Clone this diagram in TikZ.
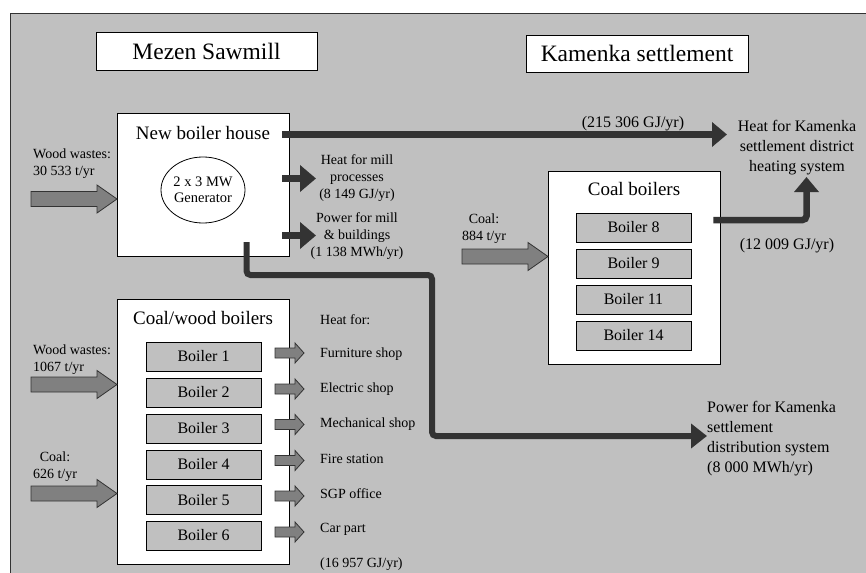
\documentclass[tikz,border=0pt]{standalone}
\usepackage{fontspec}
\setmainfont{Liberation Serif}
\usetikzlibrary{arrows.meta,shapes.geometric}

\definecolor{panel}{HTML}{C0C0C0}
\definecolor{ink}{HTML}{333333}
\definecolor{feed}{HTML}{808080}

% wide grey input arrow: start x, tip x, centre y
\newcommand\FeedArrow[3]{%
  \draw[feedarrow] (#1,#3-7.5) -- (#2-20,#3-7.5) -- (#2-20,#3-14) -- (#2,#3)
    -- (#2-20,#3+14) -- (#2-20,#3+7.5) -- (#1,#3+7.5) -- cycle;}
% small grey output arrow: start x, tip x, centre y
\newcommand\ServeArrow[3]{%
  \draw[feedarrow] (#1,#3-5) -- (#2-9,#3-5) -- (#2-9,#3-10) -- (#2,#3)
    -- (#2-9,#3+10) -- (#2-9,#3+5) -- (#1,#3+5) -- cycle;}

\tikzset{
  x=1pt, y=-1pt,
  titlebox/.style={draw=black, line width=0.8pt, fill=white, inner sep=0pt,
    font=\fontsize{23.5}{28}\selectfont},
  plant/.style={draw=black, line width=0.8pt, fill=white, inner sep=0pt},
  planttitle/.style={font=\fontsize{19}{22}\selectfont, inner sep=0pt},
  boiler/.style={draw=black, line width=0.8pt, fill=panel, minimum width=115,
    minimum height=29, inner sep=0pt, font=\fontsize{16}{19}\selectfont},
  lbl/.style={inner sep=0pt, font=\fontsize{14}{17}\selectfont},
  biglbl/.style={inner sep=0pt, font=\fontsize{16}{20}\selectfont},
  feedarrow/.style={draw=ink, line width=0.8pt, fill=feed},
  heatflow/.style={draw=ink, line width=6.5pt,
    -{Triangle[length=15pt,width=24pt]}},
  powerflow/.style={draw=ink, line width=6pt, rounded corners=4pt,
    -{Triangle[length=16pt,width=24pt]}},
  millflow/.style={draw=ink, line width=7pt,
    -{Triangle[length=16pt,width=26pt]}},
}

\begin{document}
\begin{tikzpicture}
\useasboundingbox (0,0) rectangle (866,572);
\begin{scope}
  \clip (0,0) rectangle (866,572);
  \draw[fill=panel, draw=ink, line width=0.9pt] (10,13) rectangle (880,590);
\end{scope}

% site titles
\node[titlebox, minimum width=221, minimum height=38] (mezen) at (206.5,51) {Mezen Sawmill};
\node[titlebox, minimum width=222, minimum height=37] (kamenka) at (637,53.5) {Kamenka settlement};

% new boiler house with generator
\node[plant, minimum width=172, minimum height=143] (nbh) at (203,184.5) {};
\node[planttitle] (nbhtitle) at (203,133) {New boiler house};
\node[draw=black, line width=0.8pt, fill=white, ellipse, minimum width=84,
  minimum height=66, inner sep=0pt, align=center,
  font=\fontsize{14.5}{16}\selectfont] (gen) at (203,190) {2 x 3 MW\\Generator};

% coal/wood boilers
\node[plant, minimum width=172, minimum height=265] (cwb) at (203,431.5) {};
\node[planttitle] (cwbtitle) at (203,318) {Coal/wood boilers};
\node[boiler] (b1) at (203.5,356.5) {Boiler 1};
\node[boiler] (b2) at (203.5,392.5) {Boiler 2};
\node[boiler] (b3) at (203.5,428.5) {Boiler 3};
\node[boiler] (b4) at (203.5,464.5) {Boiler 4};
\node[boiler] (b5) at (203.5,500) {Boiler 5};
\node[boiler] (b6) at (203.5,535.5) {Boiler 6};

% coal boilers of the settlement
\node[plant, minimum width=172, minimum height=193] (cb) at (634,268) {};
\node[planttitle] (cbtitle) at (634,189) {Coal boilers};
\node[boiler] (b8) at (633.5,227.5) {Boiler 8};
\node[boiler] (b9) at (633.5,263.5) {Boiler 9};
\node[boiler] (b11) at (633.5,299.5) {Boiler 11};
\node[boiler] (b14) at (633.5,335.5) {Boiler 14};

% fuel inputs
\node[lbl, anchor=west, align=left] (ww1) at (33,163.5) {Wood wastes:\\30 533 t/yr};
\FeedArrow{31}{117}{199}
\node[lbl, anchor=west, align=left] (ww2) at (33,359.5) {Wood wastes:\\1067 t/yr};
\FeedArrow{31}{117}{384.5}
\node[lbl, align=center] (coal1) at (55,466.5) {Coal:\\626 t/yr};
\FeedArrow{31}{117}{493.5}
\node[lbl, align=center] (coal2) at (484,229) {Coal:\\884 t/yr};
\FeedArrow{462}{548}{256.5}

% heat and power from the new boiler house
\coordinate (millheat) at (316,178.5);
\coordinate (millpower) at (316,235.5);
\draw[millflow] (282,178.5) -- (millheat);
\draw[millflow] (282,235.5) -- (millpower);
\node[lbl, align=center] (millheatlbl) at (357,178.5) {Heat for mill\\processes\\(8 149 GJ/yr)};
\node[lbl, align=center] (millpowerlbl) at (357,236.5) {Power for mill\\\& buildings\\(1 138 MWh/yr)};

\node[biglbl, align=center] (kheat) at (797,148) {Heat for Kamenka\\settlement district\\heating system};
\coordinate (kheattip) at (727,134.5);
\draw[heatflow] ([xshift=-7pt]nbh.east |- kheattip) -- (kheattip);
\node[biglbl] (flow1) at (633,124) {(215 306 GJ/yr)};

\coordinate (districttip) at (806.5,177);
\draw[heatflow, rounded corners=4pt] ([xshift=-7pt]cb.east |- 0,220) -| (districttip);
\node[biglbl] (flow2) at (787,245.5) {(12 009 GJ/yr)};

\node[biglbl, anchor=west, align=left] (kpower) at (707,439) {Power for Kamenka\\settlement\\distribution system\\(8 000 MWh/yr)};
\draw[powerflow] (246.5,242) -- (246.5,275) -- (432,275) -- (432,436) -- (kpower.west |- 0,436);

% heat served by the coal/wood boilers
\ServeArrow{275}{304}{353}
\ServeArrow{275}{304}{389}
\ServeArrow{275}{304}{424.5}
\ServeArrow{275}{304}{460.5}
\ServeArrow{275}{304}{496}
\ServeArrow{275}{304}{532}
\node[lbl, anchor=west] (heatfor) at (320,320) {Heat for:};
\node[lbl, anchor=west] (s1) at (320,354) {Furniture shop};
\node[lbl, anchor=west] (s2) at (320,389) {Electric shop};
\node[lbl, anchor=west] (s3) at (320,424) {Mechanical shop};
\node[lbl, anchor=west] (s4) at (320,459) {Fire station};
\node[lbl, anchor=west] (s5) at (320,494) {SGP office};
\node[lbl, anchor=west] (s6) at (320,529) {Car part};
\node[lbl, anchor=west] (cwbflow) at (320,564) {(16 957 GJ/yr)};
\end{tikzpicture}
\end{document}
